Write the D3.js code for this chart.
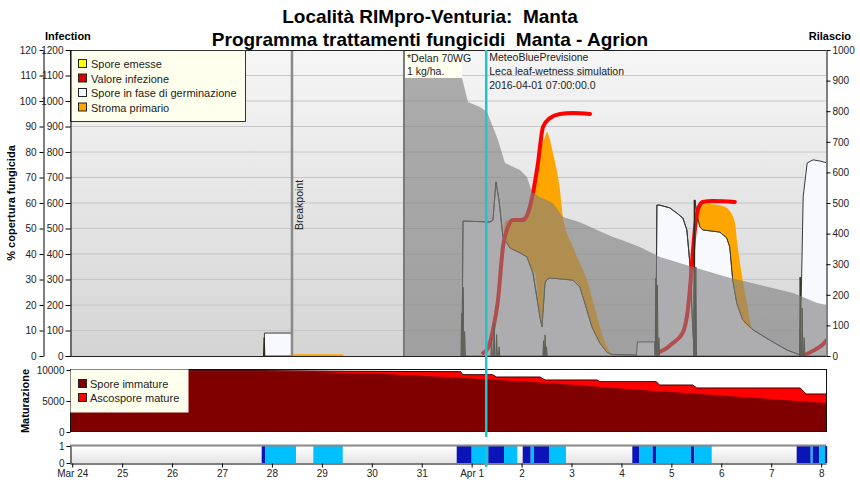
<!DOCTYPE html>
<html>
<head>
<meta charset="utf-8">
<script src="https://cdn.jsdelivr.net/npm/d3@7"></script>
<style>
body { margin: 0; background: #fff; }
svg { font-family: "Liberation Sans", Arial, sans-serif; }
.axis text { font-size: 10px; fill: #222; }
.axis path, .axis line { stroke: #000; }
.title { white-space: pre; }
</style>
</head>
<body>
<div id="chart"></div>
<script>
// all times are days after 2016-03-24 00:00
var START = Date.UTC(2016, 2, 24);
var dayRange = [-0.044, 15.097];

// % copertura fungicida
var copertura = [[6.645,0],[6.65,120],[7.74,120],[7.807,109],[7.927,99.6],[8.167,97.6],[8.307,95.7],[8.427,89.8],[8.528,84.7],[8.668,75.7],[8.968,72.9],[9.108,70.2],[9.208,64.3],[9.369,62.4],[9.629,60],[9.829,54.5],[10.17,52.5],[10.51,49.4],[10.83,46.7],[11.11,44.7],[11.37,42.7],[11.77,38.8],[12.43,34.9],[13.11,31],[13.78,27.8],[14.44,24.7],[14.92,20.8],[15.12,20]];

// spore in fase di germinazione (rilascio)
var germA = [[3.845,0],[3.85,75],[4.395,75],[4.40,0]];
var germB = [[7.807,0],[7.827,441],[8.367,438],[8.427,444],[8.487,569],[8.547,510],[8.627,389],[8.707,369],[8.768,353],[8.968,337],[9.108,324],[9.228,271],[9.369,127],[9.409,95],[9.469,239],[9.509,250],[9.569,255],[10.03,248],[10.17,225],[10.31,150],[10.41,95],[10.57,42],[10.71,12],[10.81,5],[11.31,3],[11.32,0]];
var germC = [[11.30,0],[11.32,46],[11.66,46],[11.67,0]];
var germD = [[11.69,0],[11.71,493],[11.77,493],[11.97,484],[12.11,467],[12.23,451],[12.31,412],[12.37,304],[12.43,85],[12.455,20],[12.47,510],[12.51,467],[12.57,422],[12.63,412],[12.97,405],[13.11,386],[13.17,356],[13.23,248],[13.31,173],[13.43,118],[13.64,85],[13.97,52],[14.31,20],[14.58,3],[14.59,0]];
var germE = [[14.58,0],[14.60,183],[14.64,520],[14.72,631],[14.84,641],[14.98,637],[15.12,631]];

// stroma primario [day, low, high]
var stroma0 = [[4.37,0,6],[5.43,0,6]];
var stroma1 = [[8.64,389,389],[8.668,380,438],[8.768,353,445],[8.968,337,451],[9.108,324,464],[9.208,280,536],[9.269,271,590],[9.369,127,650],[9.409,95,690],[9.469,239,716],[9.509,250,732],[9.569,255,706],[9.629,253,663],[9.769,251,542],[9.829,250,454],[10.03,248,356],[10.17,225,302],[10.31,150,248],[10.41,95,190],[10.57,42,95],[10.71,12,30],[10.81,5,5]];
var stroma2 = [[12.51,467,470],[12.57,422,493],[12.75,408,497],[12.97,405,493],[13.11,386,484],[13.17,350,474],[13.27,210,438],[13.33,165,356],[13.43,118,248],[13.53,98,160],[13.59,90,100],[13.62,88,88]];

// valore infezione (infection 0-1200)
var inf1 = [[8.228,12],[8.328,31],[8.427,102],[8.528,220],[8.627,427],[8.727,506],[8.828,533],[9.028,533],[9.128,561],[9.228,639],[9.329,757],[9.429,898],[9.569,933],[9.769,949],[10.03,953],[10.37,949]];
var inf2 = [[11.71,12],[11.91,31],[12.03,51],[12.17,75],[12.25,102],[12.31,153],[12.37,259],[12.41,357],[12.47,494],[12.53,573],[12.63,604],[12.83,608],[13.27,604]];
var inf3 = [[14.67,4],[14.87,24],[15.02,43],[15.12,63]];

// spore emesse peaks [day, value]
var sporeEmesse = [[3.845,60],[7.80,140],[7.83,225],[7.86,80],[8.40,60],[8.45,108],[8.50,70],[8.55,30],[9.44,50],[9.47,69],[9.50,30],[11.69,255],[11.72,232],[11.75,60],[12.46,510],[12.49,290],[14.58,258],[14.62,157],[14.66,60]];

// maturazione
var sporeTotali = [[-0.044,9900],[3.8,9900],[5.5,9800],[7.78,9730],[7.82,9250],[8.42,9250],[8.50,8870],[9.37,8870],[9.47,8390],[10.51,8390],[10.57,8120],[11.70,8120],[11.76,7580],[12.43,7580],[12.51,7100],[14.58,7100],[14.70,6130],[15.12,6130]];
var sporeImmature = [[-0.044,9800],[3.8,9800],[5.0,9650],[6.16,9400],[7.17,9000],[8.31,8500],[10.17,7550],[11.17,6900],[13.0,5900],[15.12,4650]];

// bagnatura [start, end, level]  2 = pioggia, 1 = bagnato
var bagnatura = [[3.795,3.861,2],[3.861,4.482,1],[4.829,5.418,1],[7.701,8.001,2],[8.001,8.334,1],[8.334,8.648,2],[8.648,8.915,1],[9.023,9.183,2],[9.183,9.249,1],[9.249,9.549,2],[9.549,9.889,1],[11.218,11.352,2],[11.352,11.626,1],[11.626,11.692,2],[11.692,12.393,1],[12.393,12.459,2],[12.459,12.808,1],[14.510,14.791,2],[14.791,14.831,1],[14.831,14.963,2],[14.963,15.077,1],[15.077,15.12,2]];

var breakpoint = 4.402;
var trattamento = 6.645;
var oraAttuale = 8.292;
var legendMain = [["Spore emesse","#ffff00"],["Valore infezione","#dd0000"],["Spore in fase di germinazione","#f8f8ff"],["Stroma primario","#ffa500"]];
var legendMat = [["Spore immature","#800000"],["Ascospore mature","#ff0000"]];

function day(d) { return new Date(START + d * 864e5); }

var width = 860, height = 489;
var svg = d3.select("#chart").append("svg").attr("width", width).attr("height", height);

var x = d3.scaleUtc().domain(dayRange.map(day)).range([70, 826]);
var yPct = d3.scaleLinear().domain([0, 120]).range([356, 50]);
var yInf = d3.scaleLinear().domain([0, 1200]).range([356, 50]);
var yRil = d3.scaleLinear().domain([0, 1000]).range([356, 50]);
var yMat = d3.scaleLinear().domain([0, 10000]).range([432, 370]);
var yWet = d3.scaleLinear().domain([0, 1]).range([463, 446]);
var fmtInt = d3.format("d");

var defs = svg.append("defs");
var g1 = defs.append("linearGradient").attr("id", "bgMain")
    .attr("x1", "0%").attr("y1", "0%").attr("x2", "0%").attr("y2", "100%");
g1.append("stop").attr("offset", "0%").attr("stop-color", "#f6f6f6");
g1.append("stop").attr("offset", "100%").attr("stop-color", "#d4d4d4");
var g2 = defs.append("linearGradient").attr("id", "bgWet")
    .attr("x1", "0%").attr("y1", "0%").attr("x2", "0%").attr("y2", "100%");
g2.append("stop").attr("offset", "0%").attr("stop-color", "#ffffff");
g2.append("stop").attr("offset", "100%").attr("stop-color", "#e4e4e4");
defs.append("clipPath").attr("id", "clipMain").append("rect")
    .attr("x", 70).attr("y", 50).attr("width", 756).attr("height", 306);
defs.append("clipPath").attr("id", "clipMat").append("rect")
    .attr("x", 70).attr("y", 370).attr("width", 756).attr("height", 62);

// titles
svg.append("text").attr("class", "title").attr("x", 430).attr("y", 23).attr("text-anchor", "middle")
    .style("font-size", "19px").style("font-weight", "bold").text("Località RIMpro-Venturia:  Manta");
svg.append("text").attr("class", "title").attr("x", 430).attr("y", 46).attr("text-anchor", "middle")
    .style("font-size", "19px").style("font-weight", "bold").text("Programma trattamenti fungicidi  Manta - Agrion");
svg.append("text").attr("x", 45).attr("y", 40)
    .style("font-size", "11px").style("font-weight", "bold").text("Infection");
svg.append("text").attr("x", 851).attr("y", 40).attr("text-anchor", "end")
    .style("font-size", "11px").style("font-weight", "bold").text("Rilascio");
svg.append("text").attr("transform", "translate(15,203) rotate(-90)").attr("text-anchor", "middle")
    .style("font-size", "11px").style("font-weight", "bold").text("% copertura fungicida");
svg.append("text").attr("transform", "translate(29,401) rotate(-90)").attr("text-anchor", "middle")
    .style("font-size", "11px").style("font-weight", "bold").text("Maturazione");

// main plot
svg.append("rect").attr("x", 70).attr("y", 50).attr("width", 756).attr("height", 306).attr("fill", "url(#bgMain)");
svg.append("g").selectAll("line")
    .data(d3.range(100, 1200, 100))
    .enter().append("line")
    .attr("x1", 70).attr("x2", 826)
    .attr("y1", function (d) { return yInf(d); })
    .attr("y2", function (d) { return yInf(d); })
    .attr("stroke", "#c6c6c6").attr("stroke-width", 1);

var plot = svg.append("g").attr("clip-path", "url(#clipMain)");

var germArea = d3.area()
    .x(function (d) { return x(day(d[0])); })
    .y0(yRil(0))
    .y1(function (d) { return yRil(d[1]); });
[germA, germB, germC, germD, germE].forEach(function (s) {
    plot.append("path").datum(s).attr("d", germArea)
        .attr("fill", "#f8f8ff").attr("stroke", "#3a3a3a").attr("stroke-width", 1);
});

var stromaArea = d3.area()
    .x(function (d) { return x(day(d[0])); })
    .y0(function (d) { return yRil(d[1]); })
    .y1(function (d) { return yRil(d[2]); })
    .curve(d3.curveMonotoneX);
[stroma0, stroma1, stroma2].forEach(function (s) {
    plot.append("path").datum(s).attr("d", stromaArea).attr("fill", "#ffa500");
});
// germination outline again over the orange
var germLine = d3.line()
    .x(function (d) { return x(day(d[0])); })
    .y(function (d) { return yRil(d[1]); });
[germB, germD].forEach(function (s) {
    plot.append("path").datum(s).attr("d", germLine)
        .attr("fill", "none").attr("stroke", "#3a3a3a").attr("stroke-width", 1);
});

var infLine = d3.line()
    .x(function (d) { return x(day(d[0])); })
    .y(function (d) { return yInf(d[1]); })
    .curve(d3.curveMonotoneX);
[inf1, inf2, inf3].forEach(function (s) {
    plot.append("path").datum(s).attr("d", infLine)
        .attr("fill", "none").attr("stroke", "#ff0000").attr("stroke-width", 4)
        .attr("stroke-linecap", "round").attr("stroke-linejoin", "round");
});

plot.selectAll(".spike")
    .data(sporeEmesse)
    .enter().append("path")
    .attr("class", "spike")
    .attr("d", function (d) {
        return "M" + x(day(d[0] - 0.014)) + "," + yRil(0) +
            "L" + x(day(d[0])) + "," + yRil(d[1]) +
            "L" + x(day(d[0] + 0.014)) + "," + yRil(0) + "Z";
    })
    .attr("fill", "#55553a").attr("stroke", "#2a2a1a").attr("stroke-width", 1);

var covArea = d3.area()
    .x(function (d) { return x(day(d[0])); })
    .y0(yPct(0))
    .y1(function (d) { return yPct(d[1]); });
plot.append("path").datum(copertura).attr("d", covArea)
    .attr("fill", "#808080").attr("fill-opacity", 0.62);

plot.append("line")
    .attr("x1", x(day(trattamento))).attr("x2", x(day(trattamento)))
    .attr("y1", 50).attr("y2", 356)
    .attr("stroke", "#7a7a7a").attr("stroke-width", 2);
plot.append("line")
    .attr("x1", x(day(breakpoint))).attr("x2", x(day(breakpoint)))
    .attr("y1", 50).attr("y2", 356)
    .attr("stroke", "#8a8a8a").attr("stroke-width", 2.5);
svg.append("text")
    .attr("transform", "translate(" + (x(day(breakpoint)) + 11) + ",205) rotate(-90)")
    .attr("text-anchor", "middle").style("font-size", "10.5px").attr("fill", "#222")
    .text("Breakpoint");

// frame
svg.append("line").attr("x1", 70).attr("x2", 826).attr("y1", 50.5).attr("y2", 50.5).attr("stroke", "#222");
svg.append("line").attr("x1", 70).attr("x2", 826).attr("y1", 356.5).attr("y2", 356.5).attr("stroke", "#222");

// treatment note
var tx = x(day(trattamento));
svg.append("rect").attr("x", tx + 1).attr("y", 51).attr("width", 57).attr("height", 27).attr("fill", "#fffff0");
svg.append("text").attr("x", tx + 3).attr("y", 62).style("font-size", "10.5px").attr("fill", "#222").text("*Delan 70WG");
svg.append("text").attr("x", tx + 3).attr("y", 75).style("font-size", "10.5px").attr("fill", "#222").text("1 kg/ha.");

var nx = x(day(oraAttuale));
["MeteoBluePrevisione", "Leca leaf-wetness simulation", "2016-04-01 07:00:00.0"].forEach(function (t, i) {
    svg.append("text").attr("x", nx + 3).attr("y", 61 + i * 14)
        .style("font-size", "10.5px").attr("fill", "#222").text(t);
});

// legend main
var leg = svg.append("g");
leg.append("rect").attr("x", 70.5).attr("y", 50.5).attr("width", 175).attr("height", 71)
    .attr("fill", "#ffffee").attr("stroke", "#333");
legendMain.forEach(function (l, i) {
    leg.append("rect").attr("x", 78.5).attr("y", 59.5 + i * 14.5).attr("width", 8).attr("height", 8)
        .attr("fill", l[1]).attr("stroke", "#222");
    leg.append("text").attr("x", 91).attr("y", 68 + i * 14.5)
        .style("font-size", "11px").attr("fill", "#222").text(l[0]);
});

// axes main
svg.append("g").attr("class", "axis").attr("transform", "translate(43.5,0)")
    .call(d3.axisLeft(yPct).tickValues(d3.range(0, 121, 10)).tickFormat(fmtInt)
        .tickSize(4).tickSizeOuter(0).tickPadding(3));
svg.append("g").attr("class", "axis").attr("transform", "translate(70.5,0)")
    .call(d3.axisLeft(yInf).tickValues(d3.range(0, 1201, 100)).tickFormat(fmtInt)
        .tickSize(5).tickSizeOuter(0).tickPadding(2));
svg.append("g").attr("class", "axis").attr("transform", "translate(826.5,0)")
    .call(d3.axisRight(yRil).tickValues(d3.range(0, 1001, 100)).tickFormat(fmtInt)
        .tickSize(4).tickSizeOuter(0).tickPadding(2));

// maturazione panel
var mat = svg.append("g").attr("clip-path", "url(#clipMat)");
mat.append("rect").attr("x", 70).attr("y", 370).attr("width", 756).attr("height", 62).attr("fill", "#fff");
var matTot = d3.area()
    .x(function (d) { return x(day(d[0])); })
    .y0(yMat(0))
    .y1(function (d) { return yMat(d[1]); });
mat.append("path").datum(sporeTotali).attr("d", matTot)
    .attr("fill", "#ff0000").attr("stroke", "#400000").attr("stroke-width", 1);
mat.append("path").datum(sporeImmature).attr("d", matTot).attr("fill", "#800000");
svg.append("rect").attr("x", 70.5).attr("y", 369.5).attr("width", 756).attr("height", 62)
    .attr("fill", "none").attr("stroke", "#111");

var leg2 = svg.append("g");
leg2.append("rect").attr("x", 70.5).attr("y", 369.5).attr("width", 118).attr("height", 43)
    .attr("fill", "#ffffee").attr("stroke", "none");
legendMat.forEach(function (l, i) {
    leg2.append("rect").attr("x", 78.5).attr("y", 379.5 + i * 14).attr("width", 8).attr("height", 8)
        .attr("fill", l[1]).attr("stroke", "#222");
    leg2.append("text").attr("x", 90).attr("y", 388 + i * 14)
        .style("font-size", "11px").attr("fill", "#222").text(l[0]);
});
svg.append("g").attr("class", "axis").attr("transform", "translate(70.5,0)")
    .call(d3.axisLeft(yMat).tickValues([0, 5000, 10000]).tickFormat(fmtInt)
        .tickSize(4).tickSizeOuter(0).tickPadding(2))
    .select(".domain").remove();

// bagnatura panel
svg.append("rect").attr("x", 70).attr("y", 446).attr("width", 756).attr("height", 17).attr("fill", "url(#bgWet)");
svg.append("g").selectAll("rect")
    .data(bagnatura)
    .enter().append("rect")
    .attr("x", function (d) { return x(day(d[0])); })
    .attr("y", yWet(1))
    .attr("width", function (d) { return x(day(d[1])) - x(day(d[0])); })
    .attr("height", yWet(0) - yWet(1))
    .attr("fill", function (d) { return d[2] == 2 ? "#0a14b8" : "#00c0ff"; });
svg.append("line").attr("x1", 70).attr("x2", 826).attr("y1", 445.5).attr("y2", 445.5)
    .attr("stroke", "#888").attr("stroke-width", 2);
svg.append("g").attr("class", "axis").attr("transform", "translate(70.5,0)")
    .call(d3.axisLeft(yWet).tickValues([0, 1]).tickFormat(fmtInt)
        .tickSize(4).tickSizeOuter(0).tickPadding(2));

var fmtMonth = d3.utcFormat("%b %-d"), fmtDay = d3.utcFormat("%-d");
svg.append("g").attr("class", "axis").attr("transform", "translate(0,463.5)")
    .call(d3.axisBottom(x).ticks(d3.utcDay.every(1)).tickSize(4).tickSizeOuter(0).tickPadding(2)
        .tickFormat(function (d) {
            return (+d == START || d.getUTCDate() == 1) ? fmtMonth(d) : fmtDay(d);
        }));

// current time
svg.append("line")
    .attr("x1", nx).attr("x2", nx).attr("y1", 50).attr("y2", 437)
    .attr("stroke", "#22c4cc").attr("stroke-width", 2.5);
svg.append("line")
    .attr("x1", nx).attr("x2", nx).attr("y1", 446).attr("y2", 467)
    .attr("stroke", "#22c4cc").attr("stroke-width", 2.5);
</script>
</body>
</html>
